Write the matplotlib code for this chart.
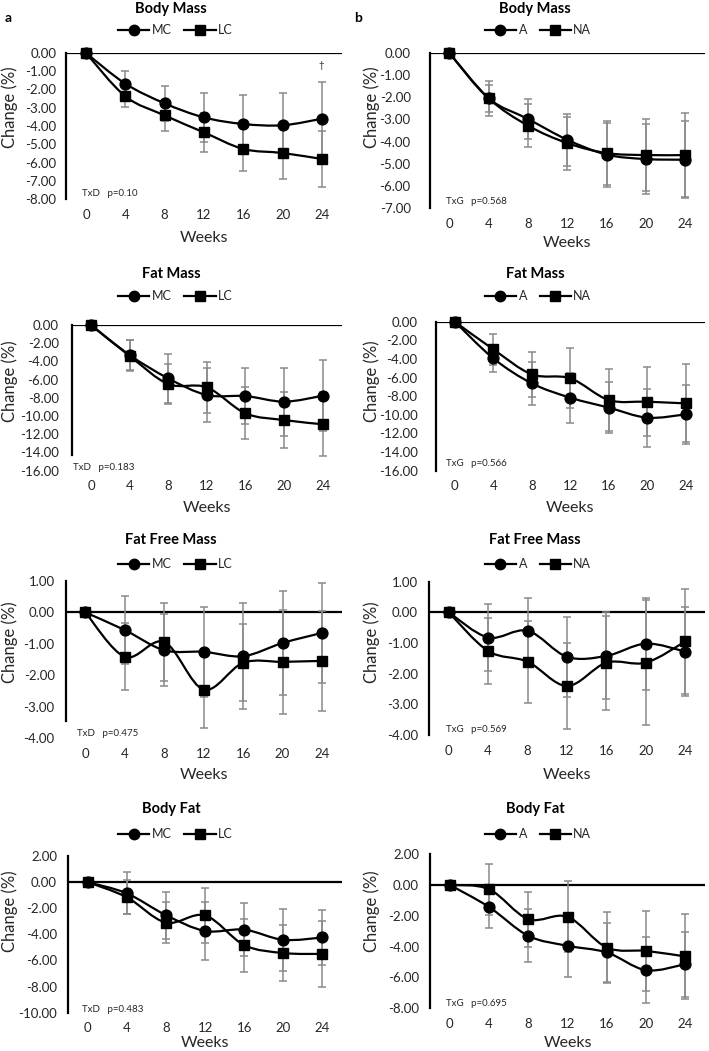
import numpy as np
import matplotlib
matplotlib.use("Agg")
import matplotlib.pyplot as plt
from matplotlib.path import Path
from matplotlib.patches import PathPatch
from matplotlib.lines import Line2D

plt.rcParams['font.family'] = ['Lato', 'DejaVu Sans']
plt.rcParams['axes.unicode_minus'] = False

# ---------------- data ----------------
weeks = [0, 4, 8, 12, 16, 20, 24]
week_labels = ["0", "4", "8", "12", "16", "20", "24"]

titles = ["Body Mass", "Fat Mass", "Fat Free Mass", "Body Fat"]
diet_names = ["MC", "LC"]
group_names = ["A", "NA"]

# Column a (diet)
bm_mc = [0, -1.68, -2.76, -3.53, -3.89, -3.96, -3.60]
bm_mc_err = [0, 0.71, 0.97, 1.32, 1.57, 1.77, 1.99]
bm_lc = [0, -2.37, -3.42, -4.35, -5.26, -5.48, -5.81]
bm_lc_err = [0, 0.59, 0.84, 1.07, 1.22, 1.42, 1.55]

fm_mc = [0, -3.30, -5.86, -7.69, -7.80, -8.42, -7.77]
fm_mc_err = [0, 1.65, 2.67, 3.00, 3.10, 3.75, 3.90]
fm_lc = [0, -3.40, -6.48, -6.85, -9.70, -10.44, -10.90]
fm_lc_err = [0, 1.70, 2.16, 2.80, 2.85, 3.05, 3.50]

ffm_mc = [0, -0.56, -1.20, -1.25, -1.39, -0.97, -0.65]
ffm_mc_err = [0, 1.08, 1.15, 1.43, 1.69, 1.66, 1.60]
ffm_lc = [0, -1.41, -0.94, -2.45, -1.60, -1.57, -1.54]
ffm_lc_err = [0, 1.07, 1.25, 1.21, 1.23, 1.65, 1.58]

bf_mc = [0, -0.86, -2.53, -3.74, -3.64, -4.42, -4.24]
bf_mc_err = [0, 1.60, 1.80, 2.20, 2.05, 2.37, 2.12]
bf_lc = [0, -1.16, -3.10, -2.55, -4.82, -5.43, -5.50]
bf_lc_err = [0, 1.30, 1.60, 2.10, 2.03, 2.17, 2.56]

# Column b (group)
bm_a = [0, -2.05, -2.98, -3.92, -4.59, -4.79, -4.82]
bm_a_err = [0, 0.78, 0.90, 1.18, 1.45, 1.60, 1.75]
bm_na = [0, -2.05, -3.28, -4.07, -4.52, -4.61, -4.61]
bm_na_err = [0, 0.62, 0.96, 1.20, 1.45, 1.62, 1.90]

fm_a = [0, -3.94, -6.62, -8.16, -9.23, -10.31, -9.95]
fm_a_err = [0, 1.43, 2.33, 2.68, 2.76, 3.11, 3.20]
fm_na = [0, -2.97, -5.65, -6.08, -8.41, -8.59, -8.77]
fm_na_err = [0, 1.65, 2.40, 3.22, 3.33, 3.70, 4.20]

ffm_a = [0, -0.82, -0.60, -1.45, -1.42, -1.02, -1.28]
ffm_a_err = [0, 1.10, 1.07, 1.30, 1.42, 1.50, 1.45]
ffm_na = [0, -1.26, -1.61, -2.40, -1.64, -1.64, -0.95]
ffm_na_err = [0, 1.08, 1.34, 1.40, 1.53, 2.04, 1.70]

bf_a = [0, -1.43, -3.30, -3.95, -4.38, -5.53, -5.14]
bf_a_err = [0, 1.35, 1.72, 2.05, 1.90, 2.12, 2.10]
bf_na = [0, -0.28, -2.22, -2.07, -4.06, -4.28, -4.64]
bf_na_err = [0, 1.66, 1.78, 2.30, 2.28, 2.60, 2.78]

stats_a = ["TxD   p=0.10", "TxD   p=0.183", "TxD   p=0.475", "TxD   p=0.483"]
stats_b = ["TxG   p=0.568", "TxG   p=0.566", "TxG   p=0.569", "TxG   p=0.695"]

# y ranges / ticks
ylims_a = [(-8, 0), (-16, 0), (-4, 1), (-10, 2)]
ylims_b = [(-7, 0), (-16, 0), (-4, 1), (-8, 2)]
ysteps_a = [1, 2, 1, 2]
ysteps_b = [1, 2, 1, 2]

# ---------------- layout (pixels) ----------------
W, H = 709, 1051
fig = plt.figure(figsize=(W / 100, H / 100), dpi=100)


def fx(x):
    return x / W


def fy(y):
    return 1 - y / H


# (x_left, x_right, y_top, y_bottom, ytick pad px, spine lower bound or None)
pos_a = [(66.3, 341.7, 53, 199, 10, None),
         (71.7, 342, 325, 470.7, 13, -14.3),
         (65.7, 341.7, 581, 738.3, 11, -3.45),
         (68.1, 342, 856, 1012.7, 11, None)]
pos_b = [(429.7, 705, 53, 208, 19, None),
         (435.6, 705, 321.7, 470.7, 18, None),
         (429, 705, 581.7, 735, 11, None),
         (430, 705, 854, 1008.3, 11, None)]

title_y = [9, 273.5, 540, 809]
legend_y = [30, 296.5, 564.5, 834]
weeks_y_a = [238, 508, 775, 1043]
weeks_y_b = [243, 508, 775, 1043]
ylab_y = [107, 381, 642, 911]
stat_y_a = [193, 467, 733, 1009]
stat_y_b = [202, 464, 730, 1003]
stat_x_a = [82, 73, 77, 82]

TEXT = '#262626'
ECOL = '#8a8a8a'


def smooth_line(ax, x, y):
    pts = np.column_stack([x, y]).astype(float)
    n = len(pts)
    verts = [pts[0]]
    codes = [Path.MOVETO]
    for i in range(n - 1):
        p0 = pts[max(i - 1, 0)]
        p1 = pts[i]
        p2 = pts[i + 1]
        p3 = pts[min(i + 2, n - 1)]
        c1 = p1 + (p2 - p0) / 6.0
        c2 = p2 - (p3 - p1) / 6.0
        verts += [c1, c2, p2]
        codes += [Path.CURVE4] * 3
    ax.add_patch(PathPatch(Path(verts, codes), facecolor='none',
                           edgecolor='black', lw=1.6, zorder=3))


def draw_panel(pos, ylim, ystep, series, names):
    x0, x1, yt, yb, pad, sbound = pos
    ax = fig.add_axes([fx(x0), fy(yb), fx(x1 - x0), (yb - yt) / H])
    ax.set_xlim(-2, 26)
    ax.set_ylim(*ylim)
    for s in ['top', 'right', 'bottom']:
        ax.spines[s].set_visible(False)
    ax.spines['left'].set_linewidth(1.6)
    if sbound is not None:
        ax.spines['left'].set_bounds(sbound, ylim[1])
    ax.axhline(0, color='black', lw=1.6, zorder=1.5)
    yt_vals = np.arange(ylim[1], ylim[0] - 0.001, -ystep)
    ax.set_yticks(yt_vals)
    ax.set_yticklabels([f"{v:.2f}" for v in yt_vals])
    ax.set_xticks(weeks)
    ax.set_xticklabels(week_labels)
    ax.tick_params(axis='y', length=0, pad=pad * 0.72, labelsize=9.5, labelcolor=TEXT)
    ax.tick_params(axis='x', length=0, pad=7, labelsize=9.5, labelcolor=TEXT)
    markers = ['o', 's']
    for (vals, err), m in zip(series, markers):
        ax.errorbar(weeks, vals, yerr=err, fmt='none', ecolor=ECOL,
                    elinewidth=1.1, capsize=3, capthick=1.1, zorder=2)
    for (vals, err), m in zip(series, markers):
        smooth_line(ax, weeks, vals)
        ax.plot(weeks, vals, ls='none', marker=m, ms=7.8 if m == 'o' else 7.5,
                color='black', zorder=4, clip_on=False)
    return ax


series_a = [[(bm_mc, bm_mc_err), (bm_lc, bm_lc_err)],
            [(fm_mc, fm_mc_err), (fm_lc, fm_lc_err)],
            [(ffm_mc, ffm_mc_err), (ffm_lc, ffm_lc_err)],
            [(bf_mc, bf_mc_err), (bf_lc, bf_lc_err)]]
series_b = [[(bm_a, bm_a_err), (bm_na, bm_na_err)],
            [(fm_a, fm_a_err), (fm_na, fm_na_err)],
            [(ffm_a, ffm_a_err), (ffm_na, ffm_na_err)],
            [(bf_a, bf_a_err), (bf_na, bf_na_err)]]

for i in range(4):
    for col, (pos, ylim, ystep, series, names, stats, weeks_y, stat_y, tx, lx, sx, ylx) in enumerate([
        (pos_a[i], ylims_a[i], ysteps_a[i], series_a[i], diet_names, stats_a, weeks_y_a, stat_y_a, 171, 175.5, stat_x_a[i], 10),
        (pos_b[i], ylims_b[i], ysteps_b[i], series_b[i], group_names, stats_b, weeks_y_b, stat_y_b, 535, 538, 446, 372)]):
        ax = draw_panel(pos, ylim, ystep, series, names)
        fig.text(fx(tx), fy(title_y[i]), titles[i], ha='center', va='center',
                 fontsize=10.5, fontweight='bold', color='black')
        handles = [Line2D([], [], color='black', lw=1.6, marker='o', ms=7.5),
                   Line2D([], [], color='black', lw=1.6, marker='s', ms=7.2)]
        fig.legend(handles, names, loc='center', bbox_to_anchor=(fx(lx), fy(legend_y[i])),
                   ncol=2, frameon=False, handlelength=2.5, handletextpad=0.2,
                   columnspacing=1.0, fontsize=9, labelcolor=TEXT, borderpad=0,
                   numpoints=1)
        fig.text(fx((pos[0] + pos[1]) / 2 + 0), fy(weeks_y[i]), "Weeks", ha='center',
                 va='center', fontsize=11.5, color=TEXT)
        fig.text(fx(ylx), fy(ylab_y[i]), "Change (%)", ha='center', va='center',
                 rotation=90, fontsize=12, color=TEXT)
        fig.text(fx(sx), fy(stat_y[i]), stats[i], ha='left', va='center',
                 fontsize=7, color=TEXT)

fig.text(fx(8), fy(18), "a", ha='center', va='center', fontsize=10, fontweight='bold')
fig.text(fx(358), fy(18), "b", ha='center', va='center', fontsize=10, fontweight='bold')
fig.text(fx(321), fy(65), "\u2020", ha='center', va='center', fontsize=7, color=TEXT)

fig.savefig("out.png", dpi=100)
